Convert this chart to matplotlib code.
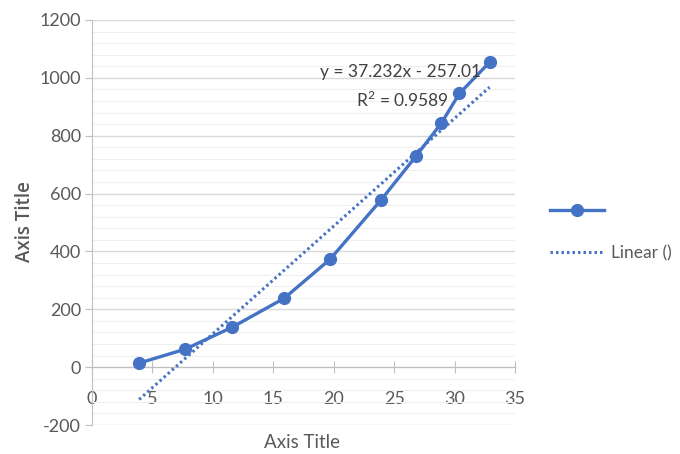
import matplotlib
matplotlib.use("Agg")
import matplotlib.pyplot as plt
from matplotlib.lines import Line2D
from matplotlib.ticker import MultipleLocator
import numpy as np

plt.rcParams['axes.unicode_minus'] = False

x_vals = [3.9, 7.7, 11.6, 15.9, 19.7, 23.9, 26.8, 28.9, 30.4, 32.9]
y_vals = [14, 62, 138, 238, 373, 577, 729, 843, 946, 1054]
slope = 37.232
intercept = -257.01
eq_text = "y = 37.232x - 257.01"
r2_text = "R$^2$ = 0.9589"
x_ticks = [0, 5, 10, 15, 20, 25, 30, 35]
y_ticks = [-200, 0, 200, 400, 600, 800, 1000, 1200]
x_title = "Axis Title"
y_title = "Axis Title"
legend_labels = ["", "Linear ()"]

NARROW = ['Lato', 'DejaVu Sans']
plt.rcParams['mathtext.fontset'] = 'custom'
plt.rcParams['mathtext.rm'] = 'Lato'
blue = '#4472C4'
gray_txt = '#595959'

fig = plt.figure(figsize=(6.8, 4.54), dpi=100)
ax = fig.add_axes([92/680, 1-425/454, (515-92)/680, (425-20)/454])

ax.set_xlim(0, 35)
ax.set_ylim(-200, 1200)
ax.set_xticks(x_ticks)
ax.set_yticks(y_ticks)
ax.yaxis.set_minor_locator(MultipleLocator(40))
ax.grid(True, which='major', axis='y', color='#d9d9d9', lw=1)
ax.grid(True, which='minor', axis='y', color='#efefef', lw=0.8)
ax.set_axisbelow(True)

for s in ['top', 'right']:
    ax.spines[s].set_visible(False)
ax.spines['bottom'].set_position(('data', 0))
ax.spines['bottom'].set_color('#bfbfbf')
ax.spines['left'].set_color('#bfbfbf')
ax.tick_params(axis='x', which='major', direction='inout', length=8, color='#bfbfbf',
               pad=13, labelsize=13, labelcolor=gray_txt)
ax.tick_params(axis='y', which='major', direction='out', length=5, color='#bfbfbf',
               pad=3, labelsize=13, labelcolor=gray_txt)
ax.tick_params(axis='y', which='minor', length=0)
for lab in ax.get_xticklabels() + ax.get_yticklabels():
    lab.set_family(NARROW)
for lab in ax.get_xticklabels():
    lab.set_bbox(dict(facecolor='white', edgecolor='none', pad=0.5))

# trendline
xt = np.array([min(x_vals), max(x_vals)])
yt = slope * xt + intercept
ax.plot(xt, yt, color=blue, lw=2.2, linestyle=(0, (0.8, 1.0)), dash_capstyle='butt', zorder=4)
# series
ax.plot(x_vals, y_vals, color=blue, lw=2.4, marker='o', ms=8.5, zorder=3)

fig.text(400/680, 1-72/454, eq_text, fontsize=12.5, color='#404040', family=NARROW,
         ha='center', va='center')
fig.text(449/680, 1-100/454, r2_text, fontsize=12.5, color='#404040', family=NARROW,
         ha='right', va='center')

fig.text(302/680, 1-443/454, x_title, fontsize=13.5, color=gray_txt, family=NARROW,
         ha='center', va='center')
fig.text(25/680, 1-222/454, y_title, fontsize=13.5, color=gray_txt, family=['Open Sans', 'DejaVu Sans'],
         weight='semibold', rotation=90, ha='center', va='center')

h1 = Line2D([], [], color=blue, lw=2.4, marker='o', ms=8.5)
h2 = Line2D([], [], color=blue, lw=2.2, linestyle=(0, (0.8, 1.0)), dash_capstyle='butt')
leg = fig.legend([h1, h2], legend_labels, loc='upper left', bbox_to_anchor=(550/680, 1-203/454),
                 frameon=False, handlelength=3.1, handletextpad=0.4, labelspacing=1.5,
                 prop={'family': NARROW, 'size': 12.5}, borderaxespad=0, borderpad=0)
for t in leg.get_texts():
    t.set_color(gray_txt)

fig.savefig('out.png', dpi=100)
